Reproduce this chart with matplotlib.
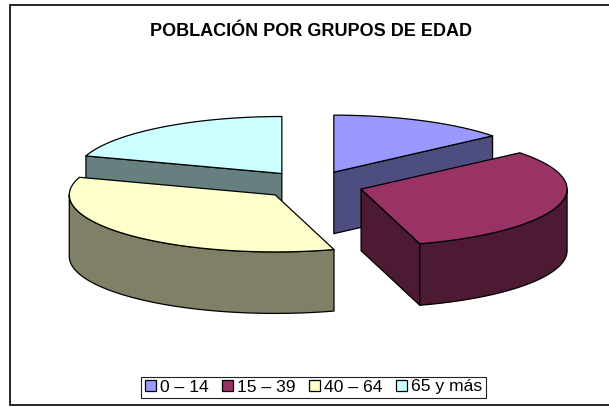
import numpy as np
import matplotlib
matplotlib.use("Agg")
import matplotlib.pyplot as plt
from matplotlib.patches import Polygon, Rectangle

categories = ["0 – 14", "15 – 39", "40 – 64", "65 y más"]
values = [14, 31.4, 34.6, 20]
top_colors = ["#9999FF", "#993366", "#FFFFCC", "#CCFFFF"]
side_colors = ["#4D4D80", "#4D1A33", "#808066", "#668080"]
draw_order = [0, 3, 1, 2]
title = "POBLACIÓN POR GRUPOS DE EDAD"

CX, CY, A, B, DEPTH, EXPLODE = 312.0, 185.0, 206, 57, 61.5, 0.249

plt.rcParams["font.family"] = ["Liberation Sans", "DejaVu Sans"]
fig = plt.figure(figsize=(6.09, 4.07), dpi=100)
ax = fig.add_axes([0, 0, 1, 1])
ax.set_xlim(0, 609)
ax.set_ylim(407, 0)
ax.axis("off")

ax.add_patch(Rectangle((9.5, 5), 620, 399.5, fc="white", ec="black", lw=1.2))

edges = np.cumsum([0] + values) / sum(values) * 2 * np.pi


def pt(cx, cy, th, r=1.0):
    return cx + A * r * np.sin(th), cy - B * r * np.cos(th)


for i in draw_order:
    t0, t1 = edges[i], edges[i + 1]
    mid = (t0 + t1) / 2
    cx, cy = pt(CX, CY, mid, EXPLODE)
    style = dict(ec="black", lw=0.9, joinstyle="round")
    for th, vis in ((t0, np.sin(t0) < -1e-6), (t1, np.sin(t1) > 1e-6)):
        if vis:
            x, y = pt(cx, cy, th)
            ax.add_patch(Polygon([(cx, cy), (x, y), (x, y + DEPTH), (cx, cy + DEPTH)],
                                 fc=side_colors[i], **style))
    a0, a1 = max(t0, np.pi / 2), min(t1, 3 * np.pi / 2)
    if a1 > a0:
        th = np.linspace(a0, a1, 100)
        x, y = pt(cx, cy, th)
        ax.add_patch(Polygon(np.r_[np.c_[x, y], np.c_[x, y + DEPTH][::-1]],
                             fc=side_colors[i], **style))
    th = np.linspace(t0, t1, 160)
    x, y = pt(cx, cy, th)
    ax.add_patch(Polygon(np.r_[[(cx, cy)], np.c_[x, y]], fc=top_colors[i], **style))

ax.text(310.5, 31, title, ha="center", va="center", fontsize=13, fontweight="bold", color="black")

ax.add_patch(Rectangle((140.5, 376.5), 345, 21.5, fc="white", ec="#222222", lw=0.8, zorder=4))
handles = [Rectangle((0, 0), 1, 1, fc=c, ec="black", lw=0.9) for c in top_colors]
leg = ax.legend(handles, categories, ncols=4, loc="center", bbox_to_anchor=(313.5 / 609, 1 - 387 / 407),
                fontsize=12.6, frameon=False,
                handlelength=0.62, handleheight=0.62, handletextpad=0.25, columnspacing=0.75,
                borderpad=0, borderaxespad=0)
leg.set_zorder(5)

fig.savefig("out.png", dpi=100)
